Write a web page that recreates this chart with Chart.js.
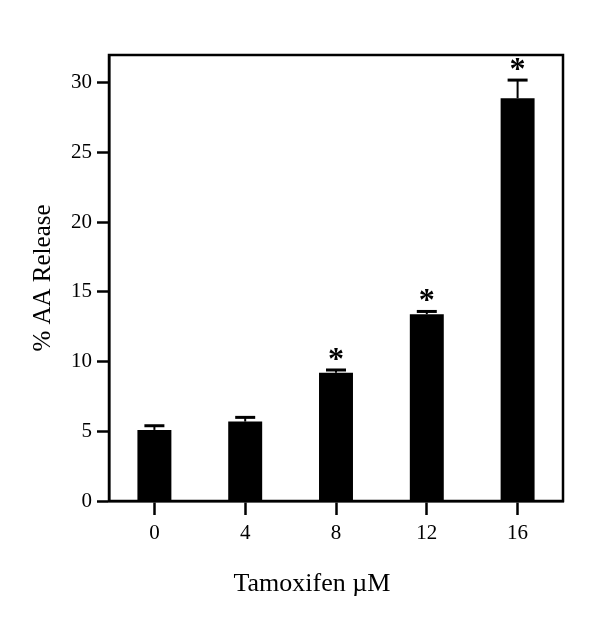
<!DOCTYPE html>
<html>
<head>
<meta charset="utf-8">
<script src="https://cdn.jsdelivr.net/npm/chart.js@4/dist/chart.umd.min.js"></script>
<style>
  html, body { margin: 0; padding: 0; background: #fff; }
  #wrap { width: 600px; height: 634px; }
</style>
</head>
<body>
<div id="wrap"><canvas id="c" width="600" height="634"></canvas></div>
<script>
const categories = ['0', '4', '8', '12', '16'];
const values = [5.1, 5.7, 9.2, 13.4, 28.9];
const errorUpper = [0.3, 0.3, 0.2, 0.2, 1.3];
const significant = [false, false, true, true, true];
const yTitle = '% AA Release';
const xTitle = 'Tamoxifen \u00b5M';

const SERIF = '"Liberation Serif", "Times New Roman", serif';

const decorPlugin = {
  id: 'decor',
  afterDatasetsDraw(chart) {
    const ctx = chart.ctx;
    const y = chart.scales.y;
    const meta = chart.getDatasetMeta(0);
    ctx.save();
    ctx.strokeStyle = '#000';
    ctx.fillStyle = '#000';
    meta.data.forEach((bar, i) => {
      const top = y.getPixelForValue(values[i]);
      const capY = y.getPixelForValue(values[i] + errorUpper[i]);
      ctx.lineWidth = 2;
      ctx.beginPath();
      ctx.moveTo(bar.x, top);
      ctx.lineTo(bar.x, capY);
      ctx.stroke();
      ctx.lineWidth = 3;
      ctx.beginPath();
      ctx.moveTo(bar.x - 10, capY);
      ctx.lineTo(bar.x + 10, capY);
      ctx.stroke();
      if (significant[i]) {
        ctx.font = 'bold 32px ' + SERIF;
        ctx.textAlign = 'center';
        ctx.textBaseline = 'alphabetic';
        ctx.fillText('*', bar.x, capY - 1);
      }
    });
    // box around plot
    const a = chart.chartArea;
    ctx.lineWidth = 2.5;
    ctx.strokeRect(a.left, a.top, a.right - a.left, a.bottom - a.top);
    // x axis title
    ctx.font = '26px ' + SERIF;
    ctx.textAlign = 'center';
    ctx.textBaseline = 'middle';
    ctx.fillText(xTitle, a.left + (a.right - a.left) * 0.447, a.bottom + 83);
    ctx.restore();
  }
};

new Chart(document.getElementById('c'), {
  type: 'bar',
  data: {
    labels: categories,
    datasets: [{
      data: values,
      backgroundColor: '#000',
      borderWidth: 0,
      barPercentage: 0.374,
      categoryPercentage: 1.0
    }]
  },
  options: {
    responsive: false,
    animation: false,
    devicePixelRatio: 1,
    layout: { padding: { left: 0, right: 37, top: 55, bottom: 0 } },
    plugins: { legend: { display: false }, tooltip: { enabled: false } },
    scales: {
      x: {
        offset: true,
        grid: { offset: false, drawOnChartArea: false, drawTicks: true, tickLength: 14, tickWidth: 2.5, tickColor: '#000' },
        border: { display: true, color: '#000', width: 2.5 },
        ticks: { color: '#000', padding: 6, font: { family: SERIF, size: 21 } },
        afterFit(scale) { scale.height = 133; }
      },
      y: {
        min: 0,
        max: 32,
        grid: { drawOnChartArea: false, drawTicks: true, tickLength: 12, tickWidth: 2.5, tickColor: '#000' },
        border: { display: true, color: '#000', width: 2.5 },
        ticks: { stepSize: 5, includeBounds: false, color: '#000', padding: 5, font: { family: SERIF, size: 21 } },
        title: { display: true, text: yTitle, color: '#000', font: { family: SERIF, size: 25 }, padding: { top: 28, bottom: 0 } },
        afterFit(scale) { scale.width = 109; }
      }
    }
  },
  plugins: [decorPlugin]
});
</script>
</body>
</html>
